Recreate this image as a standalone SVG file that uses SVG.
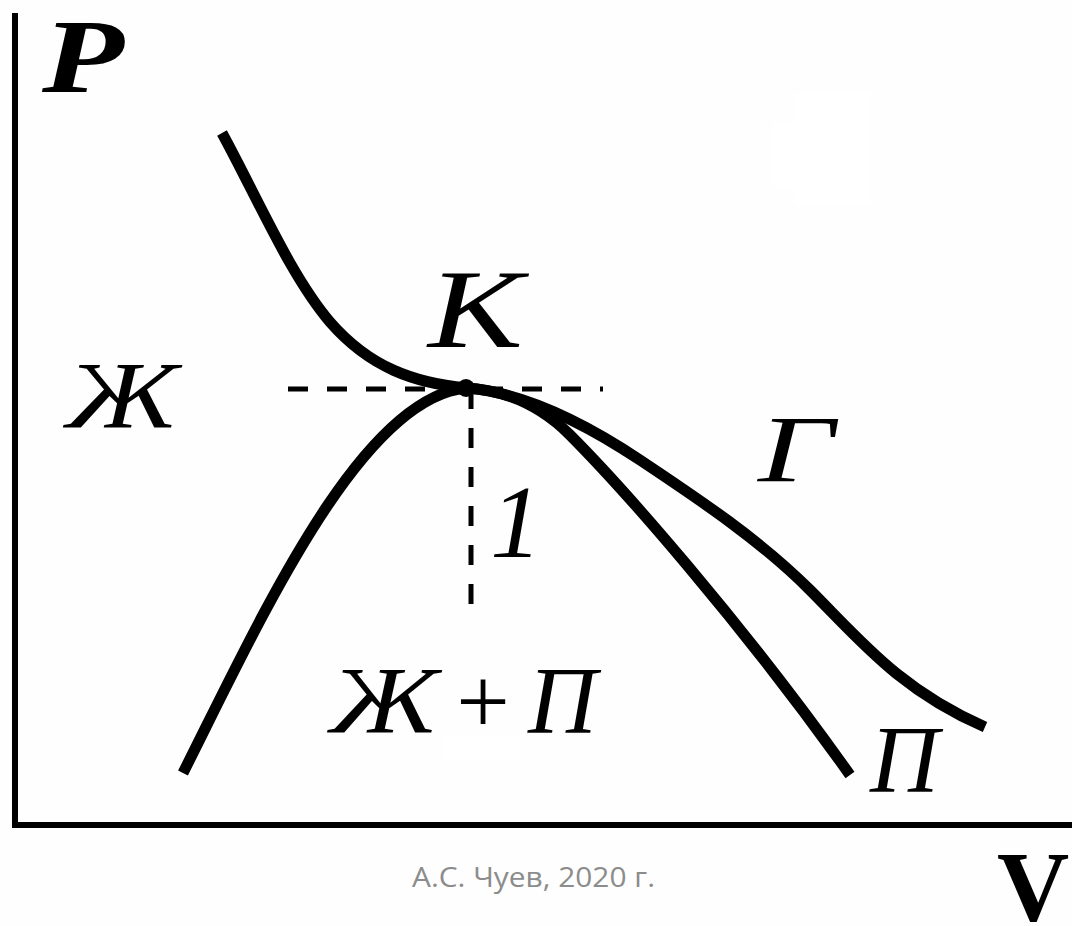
<svg xmlns="http://www.w3.org/2000/svg" width="1072" height="926" viewBox="0 0 1072 926">
<style>
.curve{fill:none;stroke:#000;stroke-width:11;stroke-linecap:butt;stroke-linejoin:round}
.axis{fill:none;stroke:#000;stroke-width:6}
.dash{fill:none;stroke:#000;stroke-width:5;stroke-dasharray:20 19}
.lbl{font-family:"Liberation Serif","Times New Roman",serif;font-style:italic;fill:#000}
.wm{font-family:"Open Sans","Noto Sans",sans-serif;fill:#8c8c8c}
</style>
<rect width="1072" height="926" fill="#fdfefd"/>
<rect x="795" y="92" width="75" height="113" fill="#fff"/>
<rect x="772" y="123" width="30" height="65" fill="#fff"/>
<g id="axes">
<line class="axis" x1="15" y1="13" x2="15" y2="828"/>
<line class="axis" x1="12" y1="825" x2="1072" y2="825"/>
</g>
<g id="connectors">
<line class="dash" x1="288" y1="389" x2="603" y2="389"/>
<line class="dash" x1="471" y1="389" x2="471" y2="618"/>
<path id="upper" class="curve" d="M222,133 C257,197 290,275 330,322 C370,368 415,383 466,388"/>
<path id="bubble" class="curve" d="M183,773 C260,620 360,398 466,388 C505,390 540,405 570,435 C620,485 740,620 850,775"/>
<path id="gas" class="curve" d="M466,388 C520,392 580,420 640,460 C700,500 760,540 810,590 C860,640 900,690 985,727"/>
</g>
<g id="K-point"><circle cx="466" cy="388" r="9" fill="#000"/></g>
<g id="label-P"><text class="lbl" x="42" y="92" font-size="106" font-weight="bold" textLength="82" lengthAdjust="spacingAndGlyphs">P</text></g>
<g id="label-K"><text class="lbl" x="428" y="347" font-size="112" textLength="95" lengthAdjust="spacingAndGlyphs">K</text></g>
<g id="label-Zh"><text class="lbl" x="66" y="428" font-size="95" textLength="112" lengthAdjust="spacingAndGlyphs">Ж</text></g>
<g id="label-1"><text class="lbl" x="516" y="557" font-size="103" text-anchor="middle">1</text></g>
<g id="label-G"><text class="lbl" x="758" y="482" font-size="95" textLength="76" lengthAdjust="spacingAndGlyphs">Г</text></g>
<g id="label-ZhP">
<rect x="443" y="737" width="77" height="23" fill="#fff"/>
<text class="lbl" x="330" y="733" font-size="95" textLength="108" lengthAdjust="spacingAndGlyphs">Ж</text>
<text x="483" y="733" font-size="95" text-anchor="middle" font-family="Liberation Serif, serif" fill="#000">+</text>
<text class="lbl" x="528" y="733" font-size="95">П</text>
</g>
<g id="label-P2"><text class="lbl" x="870" y="792" font-size="95">П</text></g>
<g id="label-V"><text x="997" y="920" font-size="100" font-weight="bold" font-family="Liberation Serif, serif" fill="#000">V</text></g>
<text class="wm" x="412" y="887" font-size="28" textLength="243" lengthAdjust="spacingAndGlyphs">А.С. Чуев, 2020 г.</text>
</svg>
